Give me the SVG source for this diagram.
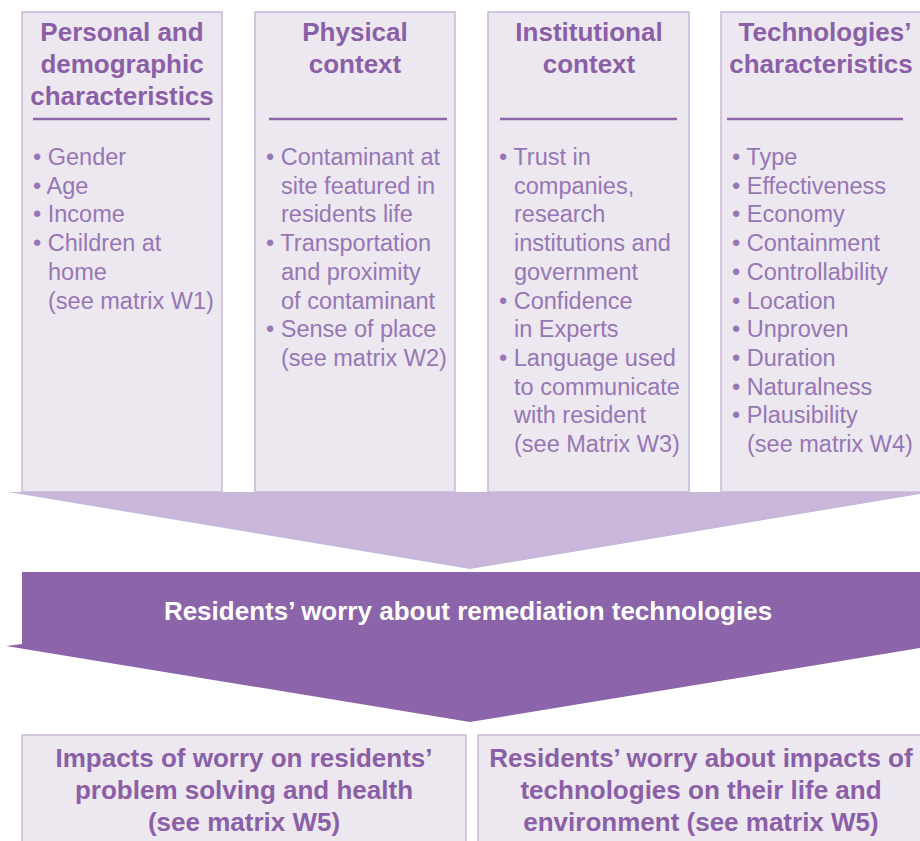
<svg xmlns="http://www.w3.org/2000/svg" width="920" height="841" viewBox="0 0 920 841">
<style>
.box{fill:#ede8ef;stroke:#c9b6d8;stroke-width:1.5}
.title{font-family:"Liberation Sans",Arial,sans-serif;font-weight:bold;font-size:26px;fill:#8b5ea8;text-anchor:middle}
.body{font-family:"Liberation Sans",Arial,sans-serif;font-size:23.5px;fill:#9676b6}
.sep{stroke:#8b64a9;stroke-width:2.5}
.band{font-family:"Liberation Sans",Arial,sans-serif;font-weight:bold;font-size:26px;fill:#ffffff;text-anchor:middle}
</style>
<rect width="920" height="841" fill="#ffffff"/>
<g id="connectors">
<polygon points="8,492 920,492 920,494 470,569" fill="#c9b7da"/>
<polygon points="22,572 920,572 920,648 470,722 6,646 22,644" fill="#8b64a9"/>
</g>
<g id="personal">
<rect class="box" x="22" y="12" width="200" height="480"/>
<text class="title"><tspan x="122" y="41">Personal and</tspan><tspan x="122" y="73">demographic</tspan><tspan x="122" y="105">characteristics</tspan></text>
<line class="sep" x1="33" y1="119" x2="210" y2="119"/>
<text class="body"><tspan x="33" y="165">• Gender</tspan><tspan x="33" y="193.7">• Age</tspan><tspan x="33" y="222.4">• Income</tspan><tspan x="33" y="251.1">• Children at</tspan><tspan x="48" y="279.8">home</tspan><tspan x="48" y="308.5">(see matrix W1)</tspan></text>
</g>
<g id="physical">
<rect class="box" x="255" y="12" width="200" height="480"/>
<text class="title"><tspan x="355" y="41">Physical</tspan><tspan x="355" y="73">context</tspan></text>
<line class="sep" x1="269" y1="119" x2="447" y2="119"/>
<text class="body"><tspan x="266" y="165">• Contaminant at</tspan><tspan x="281" y="193.7">site featured in</tspan><tspan x="281" y="222.4">residents life</tspan><tspan x="266" y="251.1">• Transportation</tspan><tspan x="281" y="279.8">and proximity</tspan><tspan x="281" y="308.5">of contaminant</tspan><tspan x="266" y="337.2">• Sense of place</tspan><tspan x="281" y="365.9">(see matrix W2)</tspan></text>
</g>
<g id="institutional">
<rect class="box" x="488" y="12" width="201" height="480"/>
<text class="title"><tspan x="589" y="41">Institutional</tspan><tspan x="589" y="73">context</tspan></text>
<line class="sep" x1="500" y1="119" x2="677" y2="119"/>
<text class="body"><tspan x="499" y="165">• Trust in</tspan><tspan x="514" y="193.7">companies,</tspan><tspan x="514" y="222.4">research</tspan><tspan x="514" y="251.1">institutions and</tspan><tspan x="514" y="279.8">government</tspan><tspan x="499" y="308.5">• Confidence</tspan><tspan x="514" y="337.2">in Experts</tspan><tspan x="499" y="365.9">• Language used</tspan><tspan x="514" y="394.6">to communicate</tspan><tspan x="514" y="423.3">with resident</tspan><tspan x="514" y="452">(see Matrix W3)</tspan></text>
</g>
<g id="technologies">
<rect class="box" x="721" y="12" width="204" height="480"/>
<text class="title"><tspan x="825" y="41">Technologies’</tspan><tspan x="821" y="73">characteristics</tspan></text>
<line class="sep" x1="727" y1="119" x2="903" y2="119"/>
<text class="body"><tspan x="732" y="165">• Type</tspan><tspan x="732" y="193.7">• Effectiveness</tspan><tspan x="732" y="222.4">• Economy</tspan><tspan x="732" y="251.1">• Containment</tspan><tspan x="732" y="279.8">• Controllability</tspan><tspan x="732" y="308.5">• Location</tspan><tspan x="732" y="337.2">• Unproven</tspan><tspan x="732" y="365.9">• Duration</tspan><tspan x="732" y="394.6">• Naturalness</tspan><tspan x="732" y="423.3">• Plausibility</tspan><tspan x="747" y="452">(see matrix W4)</tspan></text>
</g>
<g id="worry">
<text class="band" x="468" y="620">Residents’ worry about remediation technologies</text>
</g>
<g id="impacts">
<rect class="box" x="22" y="735" width="444" height="115"/>
<text class="title"><tspan x="244" y="767">Impacts of worry on residents’</tspan><tspan x="244" y="799">problem solving and health</tspan><tspan x="244" y="831">(see matrix W5)</tspan></text>
</g>
<g id="worry-impacts">
<rect class="box" x="478" y="735" width="450" height="115"/>
<text class="title"><tspan x="701" y="767">Residents’ worry about impacts of</tspan><tspan x="701" y="799">technologies on their life and</tspan><tspan x="701" y="831">environment (see matrix W5)</tspan></text>
</g>
</svg>
